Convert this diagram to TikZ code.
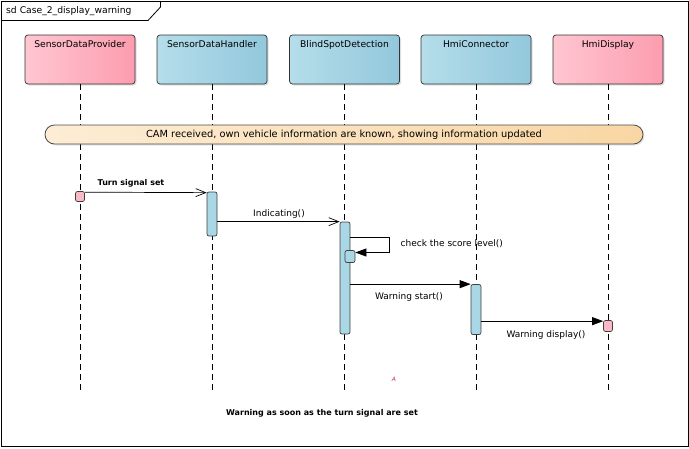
\documentclass[tikz,border=0pt]{standalone}
\usepackage{fontspec}
\setmainfont{DejaVu Sans}
\usetikzlibrary{arrows.meta,shapes.misc,shadows}
\definecolor{pinkL}{HTML}{FFC6D1}
\definecolor{pinkR}{HTML}{FC9DAF}
\definecolor{blueL}{HTML}{B5DDEA}
\definecolor{blueR}{HTML}{92C8DC}
\definecolor{actfill}{HTML}{A9D7E6}
\definecolor{noteL}{HTML}{FDEDD5}
\definecolor{noteR}{HTML}{F9D6A4}
\definecolor{srcpink}{HTML}{FBB9C7}
\definecolor{redA}{HTML}{C8304A}
\begin{document}
\begin{tikzpicture}[x=1pt,y=-1pt,
  font=\fontsize{9.2}{10}\selectfont,
  head/.style={draw=black!80, line width=0.7pt, rounded corners=3pt, minimum width=110pt, minimum height=49pt, inner sep=0pt,
    drop shadow={shadow xshift=1.5pt, shadow yshift=-1.5pt, opacity=0.25}},
  pinkhead/.style={head, left color=pinkL, right color=pinkR},
  bluehead/.style={head, left color=blueL, right color=blueR},
  headlabel/.style={anchor=north, inner sep=0pt, yshift=-6pt},
  lifeline/.style={draw=black, dash pattern=on 6pt off 4pt, line width=0.8pt},
  act/.style={draw=black!75, line width=0.7pt, fill=actfill, rounded corners=2pt, minimum width=10pt, inner sep=0pt},
  endpt/.style={draw=black!75, line width=0.7pt, fill=srcpink, rounded corners=2pt, minimum width=9pt, minimum height=10pt, inner sep=0pt},
  msg/.style={draw=black, line width=0.7pt},
  openhead/.style={msg, -{Straight Barb[length=10pt,width=8pt]}},
  fillhead/.style={msg, -{Triangle[length=11pt,width=8pt]}},
  msglabel/.style={inner sep=0pt, font=\fontsize{9}{10}\selectfont},
  boldlabel/.style={inner sep=0pt, font=\fontsize{8}{10}\selectfont\bfseries}
]
\useasboundingbox (0,0) rectangle (689,448);
% frame
\draw[line width=0.8pt] (1,1) rectangle (688,446);
\draw[line width=0.8pt] (1,20.5) -- (148,20.5) -- (160.5,7) -- (160.5,1);
\node[anchor=west, inner sep=0pt] (title) at (6,11) {sd Case\_2\_display\_warning};

% heads
\node[pinkhead, label={[headlabel]north:SensorDataProvider}] (sdp) at (80,59.5) {};
\node[bluehead, label={[headlabel]north:SensorDataHandler}] (sdh) at (212,59.5) {};
\node[bluehead, label={[headlabel]north:BlindSpotDetection}] (bsd) at (344.5,59.5) {};
\node[bluehead, label={[headlabel]north:HmiConnector}] (hmic) at (476,59.5) {};
\node[pinkhead, label={[headlabel]north:HmiDisplay}] (hmid) at (608,59.5) {};

% lifeline ends
\coordinate (sdpE) at (80,391);
\coordinate (sdhE) at (212,391);
\coordinate (bsdE) at (344.5,391);
\coordinate (hmicE) at (476,391);
\coordinate (hmidE) at (608,391);
\draw[lifeline] (sdp.south) -- (sdpE);
\draw[lifeline] (sdh.south) -- (sdhE);
\draw[lifeline] (bsd.south) -- (bsdE);
\draw[lifeline] (hmic.south) -- (hmicE);
\draw[lifeline] (hmid.south) -- (hmidE);

% note
\node[rounded rectangle, draw=black!70, line width=0.8pt, left color=noteL, right color=noteR,
  minimum width=598pt, minimum height=19pt, inner sep=0pt, font=\fontsize{9.8}{11}\selectfont,
  drop shadow={shadow xshift=1.5pt, shadow yshift=-1.5pt, opacity=0.2}] (note) at (344,134.5)
  {CAM received, own vehicle information are known, showing information updated};

% activations
\node[endpt] (src) at (80,196.5) {};
\node[act, minimum height=44pt] (act1) at (212,214) {};
\node[act, minimum height=112pt] (act2) at (345,278) {};
\node[act, minimum height=12pt] (act3) at (350,256.5) {};
\node[act, minimum height=50pt] (act4) at (476,309.5) {};
\node[endpt, minimum height=11pt] (dst) at (608,326) {};

% messages
\draw[openhead] ([yshift=-1pt]src.north east) -- ([yshift=-1pt]act1.north west);
\node[boldlabel] (l1) at (131,183) {Turn signal set};

\draw[openhead] (act1.east |- act2.north) -- (act2.north west);
\node[msglabel] (l2) at (279,214) {Indicating()};

\coordinate (sc1) at (389.5,237);
\coordinate (sc2) at (389.5,252.5);
\draw[msg] (act2.east |- sc1) -- (sc1) -- (sc2);
\draw[fillhead] (sc2) -- (act3.east |- sc2);
\node[msglabel, anchor=west] (l3) at (400.5,244) {check the score level()};

\draw[fillhead] (act2.east |- act4.north) -- (act4.north west);
\node[msglabel] (l4) at (409,297.5) {Warning start()};

\draw[fillhead] ([yshift=-1pt]act4.east |- dst.north) -- ([yshift=-1pt]dst.north west);
\node[msglabel] (l5) at (546,335) {Warning display()};

% misc
\node[inner sep=0pt, text=redA, font=\fontsize{6}{7}\selectfont\itshape] (markA) at (394,379) {A};
\node[boldlabel] (bottom) at (322,413.5) {Warning as soon as the turn signal are set};
\end{tikzpicture}
\end{document}
